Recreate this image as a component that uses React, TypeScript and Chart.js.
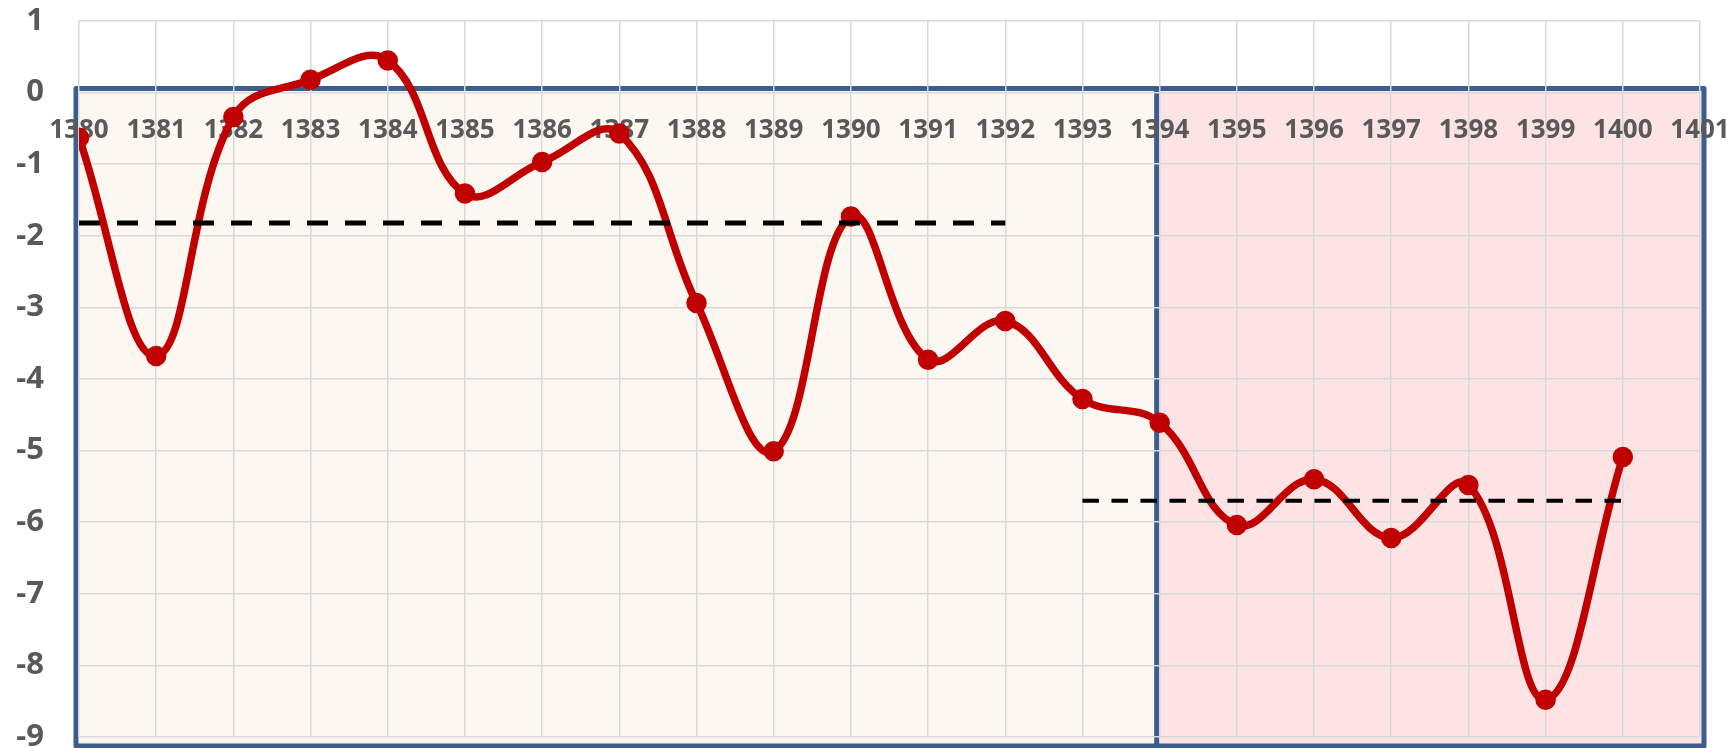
import React, { useEffect, useRef } from "react";
import { Chart, registerables } from "chart.js";

Chart.register(...registerables);

// ---- data ----
const years = [
  1380, 1381, 1382, 1383, 1384, 1385, 1386, 1387, 1388, 1389, 1390,
  1391, 1392, 1393, 1394, 1395, 1396, 1397, 1398, 1399, 1400,
];
const values = [
  -0.63, -3.68, -0.34, 0.18, 0.45, -1.41, -0.97, -0.57, -2.94, -5.01, -1.73,
  -3.73, -3.19, -4.28, -4.61, -6.04, -5.4, -6.22, -5.48, -8.48, -5.09,
];
const meanEarlyYears = [1380, 1392];
const meanEarlyValues = [-1.82, -1.82];
const meanLateYears = [1393, 1400];
const meanLateValues = [-5.7, -5.7];

const xRange = [1380, 1401];
const yRange = [-9, 1];
const periodBounds = [1380, 1394, 1401];
const periodLevels = [0, -9];

const framePlugin = {
  id: "periodFrame",
  beforeDraw(chart: any) {
    const { ctx } = chart;
    const x = chart.scales.x;
    const y = chart.scales.y;
    const l = x.getPixelForValue(periodBounds[0]) - 3;
    const m = x.getPixelForValue(periodBounds[1]) - 3;
    const r = x.getPixelForValue(periodBounds[2]) + 4;
    const t = y.getPixelForValue(periodLevels[0]) - 4;
    const b = y.getPixelForValue(periodLevels[1]) + 9;
    ctx.save();
    ctx.fillStyle = "#FCF7F1";
    ctx.fillRect(l, t, m - l, b - t);
    ctx.fillStyle = "#FDE3E3";
    ctx.fillRect(m, t, r - m, b - t);
    ctx.strokeStyle = "#3B5E8E";
    ctx.lineWidth = 5;
    ctx.lineJoin = "round";
    ctx.strokeRect(l, t, r - l, b - t);
    ctx.beginPath();
    ctx.moveTo(m, t);
    ctx.lineTo(m, b);
    ctx.stroke();
    ctx.restore();
  },
};

export default function App() {
  const ref = useRef<HTMLCanvasElement | null>(null);

  useEffect(() => {
    if (!ref.current) return;
    const chart = new Chart(ref.current, {
      type: "line",
      data: {
        datasets: [
          {
            data: meanEarlyYears.map((x, i) => ({ x, y: meanEarlyValues[i] })),
            borderColor: "#000000",
            borderWidth: 5,
            borderDash: [21, 17],
            pointRadius: 0,
            tension: 0,
          },
          {
            data: meanLateYears.map((x, i) => ({ x, y: meanLateValues[i] })),
            borderColor: "#000000",
            borderWidth: 4,
            borderDash: [16.5, 12.5],
            pointRadius: 0,
            tension: 0,
          },
          {
            data: years.map((x, i) => ({ x, y: values[i] })),
            borderColor: "#C00000",
            backgroundColor: "#C00000",
            borderWidth: 7.5,
            pointRadius: 9.5,
            pointBorderWidth: 1.5,
            pointBorderColor: "#C00000",
            pointBackgroundColor: "#C00000",
            tension: 0.4,
          },
        ],
      },
      options: {
        responsive: false,
        animation: false,
        devicePixelRatio: 1,
        layout: { padding: { top: 21, bottom: 10.7, right: 34, left: 0 } },
        plugins: {
          legend: { display: false },
          tooltip: { enabled: false },
          title: { display: false },
        },
        scales: {
          x: {
            type: "linear",
            position: { y: 0 } as any,
            min: xRange[0],
            max: xRange[1],
            grid: { color: "#D9D9D9", lineWidth: 1.5, drawTicks: false },
            border: { display: false },
            ticks: {
              stepSize: 1,
              padding: 22,
              color: "#595959",
              font: { family: "'Open Sans', sans-serif", size: 26, weight: "bold" },
              maxRotation: 0,
              autoSkip: false,
              callback: (v: any) => String(v),
            },
            afterFit: (s: any) => {
              s.paddingLeft = 0;
              s.paddingRight = 0;
            },
          },
          y: {
            type: "linear",
            min: yRange[0],
            max: yRange[1],
            grid: { color: "#D9D9D9", lineWidth: 1.5, drawTicks: false },
            border: { display: false },
            ticks: {
              stepSize: 1,
              padding: 35,
              color: "#595959",
              font: { family: "'Open Sans', sans-serif", size: 31, weight: "bold" },
              callback: (v: any) => String(v),
            },
            afterFit: (s: any) => {
              s.width = 79;
              s.paddingTop = 0;
              s.paddingBottom = 0;
            },
          },
        },
      },
      plugins: [framePlugin],
    });
    return () => chart.destroy();
  }, []);

  return (
    <div style={{ position: "fixed", left: 0, top: 0, width: 1734, height: 748, background: "#fff" }}>
      <canvas ref={ref} width={1734} height={748} style={{ display: "block" }} />
    </div>
  );
}
